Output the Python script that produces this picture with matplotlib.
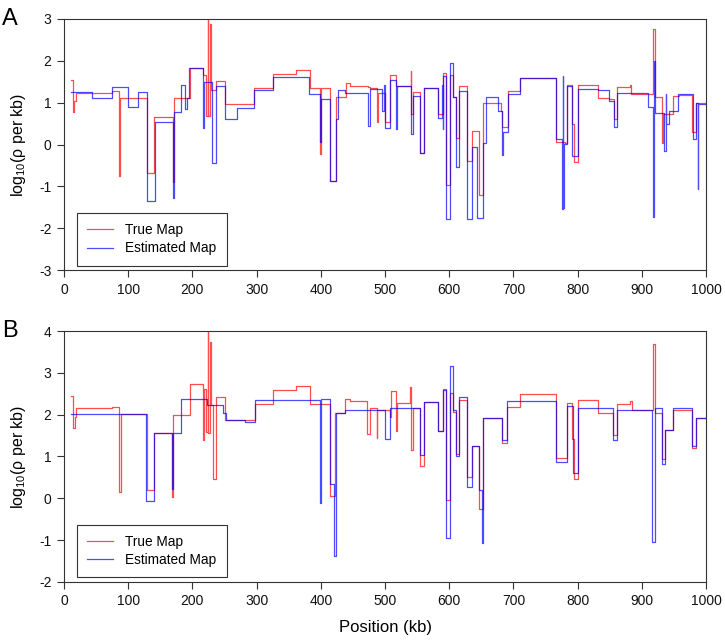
import matplotlib
matplotlib.use('Agg')
import matplotlib.pyplot as plt

plt.rcParams['font.family'] = ['Liberation Sans', 'DejaVu Sans']
plt.rcParams['mathtext.default'] = 'regular'
plt.rcParams['axes.unicode_minus'] = False

# step functions: start position (kb) of each segment and its value
trueA_x = [11, 14, 16, 19, 75, 86, 87, 129, 140, 169, 171, 196, 217, 221, 223.8, 224.8, 227.4, 228.5,
           231, 237, 251, 296, 326, 362, 383, 398, 400, 415, 424, 439, 445, 474, 477, 487, 488.5,
           500, 508, 517, 540, 541, 543, 554, 561, 583, 590, 595, 601, 606, 611, 616, 627, 635, 647,
           653, 680, 683, 692, 710, 766, 781, 783, 792, 795, 801, 832, 849, 856, 862, 881, 883, 918,
           920, 931, 933, 948, 958, 978, 985]
trueA_y = [1.55, 0.77, 1.05, 1.24, 1.29, -0.76, 1.12, -0.69, 0.65, -0.9, 1.10, 1.83, 1.67, 0.68, 3.3,
           0.68, 2.87, 1.31, 1.31, 1.51, 0.98, 1.34, 1.69, 1.78, 1.35, -0.22, 1.35, -0.88, 1.14, 1.47,
           1.41, 1.38, 1.35, 0.54, 1.24, 0.54, 1.66, 1.41, 1.75, 0.72, 1.25, -0.20, 1.35, 0.72, 1.71,
           -0.96, 1.65, 1.14, 0.16, 1.41, -0.40, 0.32, -1.20, 1.00, 0.81, 0.42, 1.27, 1.59, 0.06, 0.04,
           1.43, 0.50, -0.42, 1.43, 1.11, 1.08, 0.61, 1.37, 1.43, 1.20, 2.76, 1.14, 0.04, 0.72, 1.17,
           1.19, 0.30, 1.00]

estA_x = [11, 43, 75, 99, 115, 129, 130, 141, 169, 171, 182, 189, 192, 195, 217, 218, 231, 237, 251,
          269, 296, 326, 382, 398, 400, 415, 424, 426, 438, 474, 477, 496, 498, 500, 508, 517, 519,
          541, 543, 554, 561, 583, 588, 590, 591, 595, 601, 606, 611, 616, 627, 635, 643, 653, 657,
          676, 682, 684, 692, 710, 766, 775, 777, 777.5, 779, 783, 792, 801, 832, 849, 856, 862, 910,
          917, 919, 920, 934, 937, 937.5, 942, 957, 979, 984, 987, 988]
estA_y = [1.26, 1.10, 1.38, 0.90, 1.26, 0.10, -1.34, 0.54, -1.27, 0.77, 1.42, 0.84, 1.10, 1.83, 0.40,
          1.49, -0.44, 1.39, 0.61, 0.87, 1.30, 1.62, 1.20, 0.06, 1.09, -0.88, 0.62, 1.30, 1.24, 0.44,
          1.33, 0.80, 1.43, 0.40, 1.55, 0.36, 1.41, 0.24, 1.16, -0.20, 1.35, 0.64, 1.43, 0.36, 1.63,
          -1.79, 1.95, 1.14, -0.53, 1.27, -1.77, -0.06, -1.75, 0.04, 1.14, 0.81, -0.25, 0.30, 1.20,
          1.59, 0.14, -1.54, 1.63, -1.52, 0.02, 1.41, -0.28, 1.33, 1.31, 1.04, 0.42, 1.24, 0.90, -1.73,
          1.99, 0.76, -0.16, 1.21, 0.48, 0.81, 1.20, 0.14, 1.00, -1.06, 0.96]

trueB_x = [11, 14.5, 17, 19, 74, 86, 88, 129, 140, 168, 170, 196, 216, 218, 221, 223.8, 224.8, 227.4,
           228.5, 231.6, 236.7, 251, 297, 326, 362, 383, 414, 422, 438, 445, 472, 477, 487, 488, 507,
           509, 517, 519, 539, 541, 543, 554, 561, 583, 591, 595, 601, 606, 611, 616, 627, 635, 647,
           653, 683, 690, 710, 766, 783, 792, 795, 801, 831, 855, 862, 881, 884, 918, 920, 931, 936,
           948, 978, 985]
trueB_y = [2.44, 1.69, 1.95, 2.15, 2.19, 0.15, 2.01, 0.21, 1.55, 0.02, 2.00, 2.74, 1.39, 2.62, 1.59,
           4.3, 1.57, 3.74, 2.22, 0.47, 2.42, 1.88, 2.26, 2.60, 2.69, 2.26, 0.06, 2.03, 2.37, 2.32,
           1.53, 2.15, 1.45, 2.12, 1.95, 2.57, 1.60, 2.28, 2.65, 1.15, 2.17, 0.77, 2.30, 1.61, 2.62,
           -0.05, 2.53, 2.07, 1.07, 2.34, 0.51, 1.24, -0.25, 1.91, 1.32, 2.19, 2.49, 0.97, 2.29, 1.43,
           0.47, 2.34, 2.03, 1.51, 2.26, 2.32, 2.11, 3.68, 2.04, 0.95, 1.64, 2.11, 1.21, 1.92]

estB_x = [11, 128, 140, 168, 170, 182, 222, 248, 252, 282, 297, 398, 400, 414, 421, 424, 438, 500,
          507, 555, 561, 583, 591, 595, 601, 606, 611, 616, 627, 635, 647, 651, 653, 683, 690, 766,
          783, 793, 801, 855, 862, 882, 916, 920, 931, 936, 948, 978, 985]
estB_y = [2.01, -0.06, 1.55, 0.23, 1.57, 2.37, 2.22, 2.03, 1.87, 1.83, 2.34, -0.10, 2.38, 0.35, -1.39,
          2.04, 2.11, 1.41, 2.16, 1.04, 2.30, 1.61, 2.58, -0.96, 3.16, 2.12, 1.00, 2.42, 0.27, 1.24,
          0.19, -1.08, 1.91, 1.40, 2.32, 0.88, 2.20, 0.61, 2.16, 1.39, 2.12, 2.11, -1.04, 2.15, 0.83,
          1.64, 2.15, 1.25, 1.92]

xticks = list(range(0, 1001, 100))


def drawPanel(ax, tx, ty, ex, ey, ylim, letter):
    ax.step(tx + [1000], ty + [ty[-1]], where='post', color='#ff0000', alpha=0.7, lw=0.9, label='True Map')
    ax.step(ex + [1000], ey + [ey[-1]], where='post', color='#0000ff', alpha=0.7, lw=0.9, label='Estimated Map')
    ax.set_xlim(0, 1000)
    ax.set_ylim(*ylim)
    ax.set_xticks(xticks)
    ax.set_yticks(range(ylim[0], ylim[1] + 1))
    ax.tick_params(direction='out', length=5, width=0.8, labelsize=10, colors='#333333',
                   labelcolor='#111111', pad=4)
    for s in ax.spines.values():
        s.set_color('#333333')
        s.set_linewidth(0.8)
    ax.set_ylabel('log$_{10}$(ρ per kb)', fontsize=11.5, labelpad=8)
    leg = ax.legend(loc='lower left', bbox_to_anchor=(0.02, 0.018), borderaxespad=0, fancybox=False,
                    edgecolor='#333333', framealpha=1, fontsize=9.8, handlelength=1.9,
                    handletextpad=0.9, borderpad=0.75, labelspacing=0.3)
    leg.get_frame().set_linewidth(0.8)
    ax.text(-0.085, 1.0, letter, transform=ax.transAxes, fontsize=17, ha='center', va='center')


fig = plt.figure(figsize=(7.25, 6.43), dpi=100)
axA = fig.add_axes([0.0883, 0.580, 0.8855, 0.3905])
axB = fig.add_axes([0.0883, 0.0949, 0.8855, 0.3903])

drawPanel(axA, trueA_x, trueA_y, estA_x, estA_y, (-3, 3), 'A')
drawPanel(axB, trueB_x, trueB_y, estB_x, estB_y, (-2, 4), 'B')
axB.set_xlabel('Position (kb)', fontsize=12, labelpad=8)

fig.savefig('out.png', dpi=100)
